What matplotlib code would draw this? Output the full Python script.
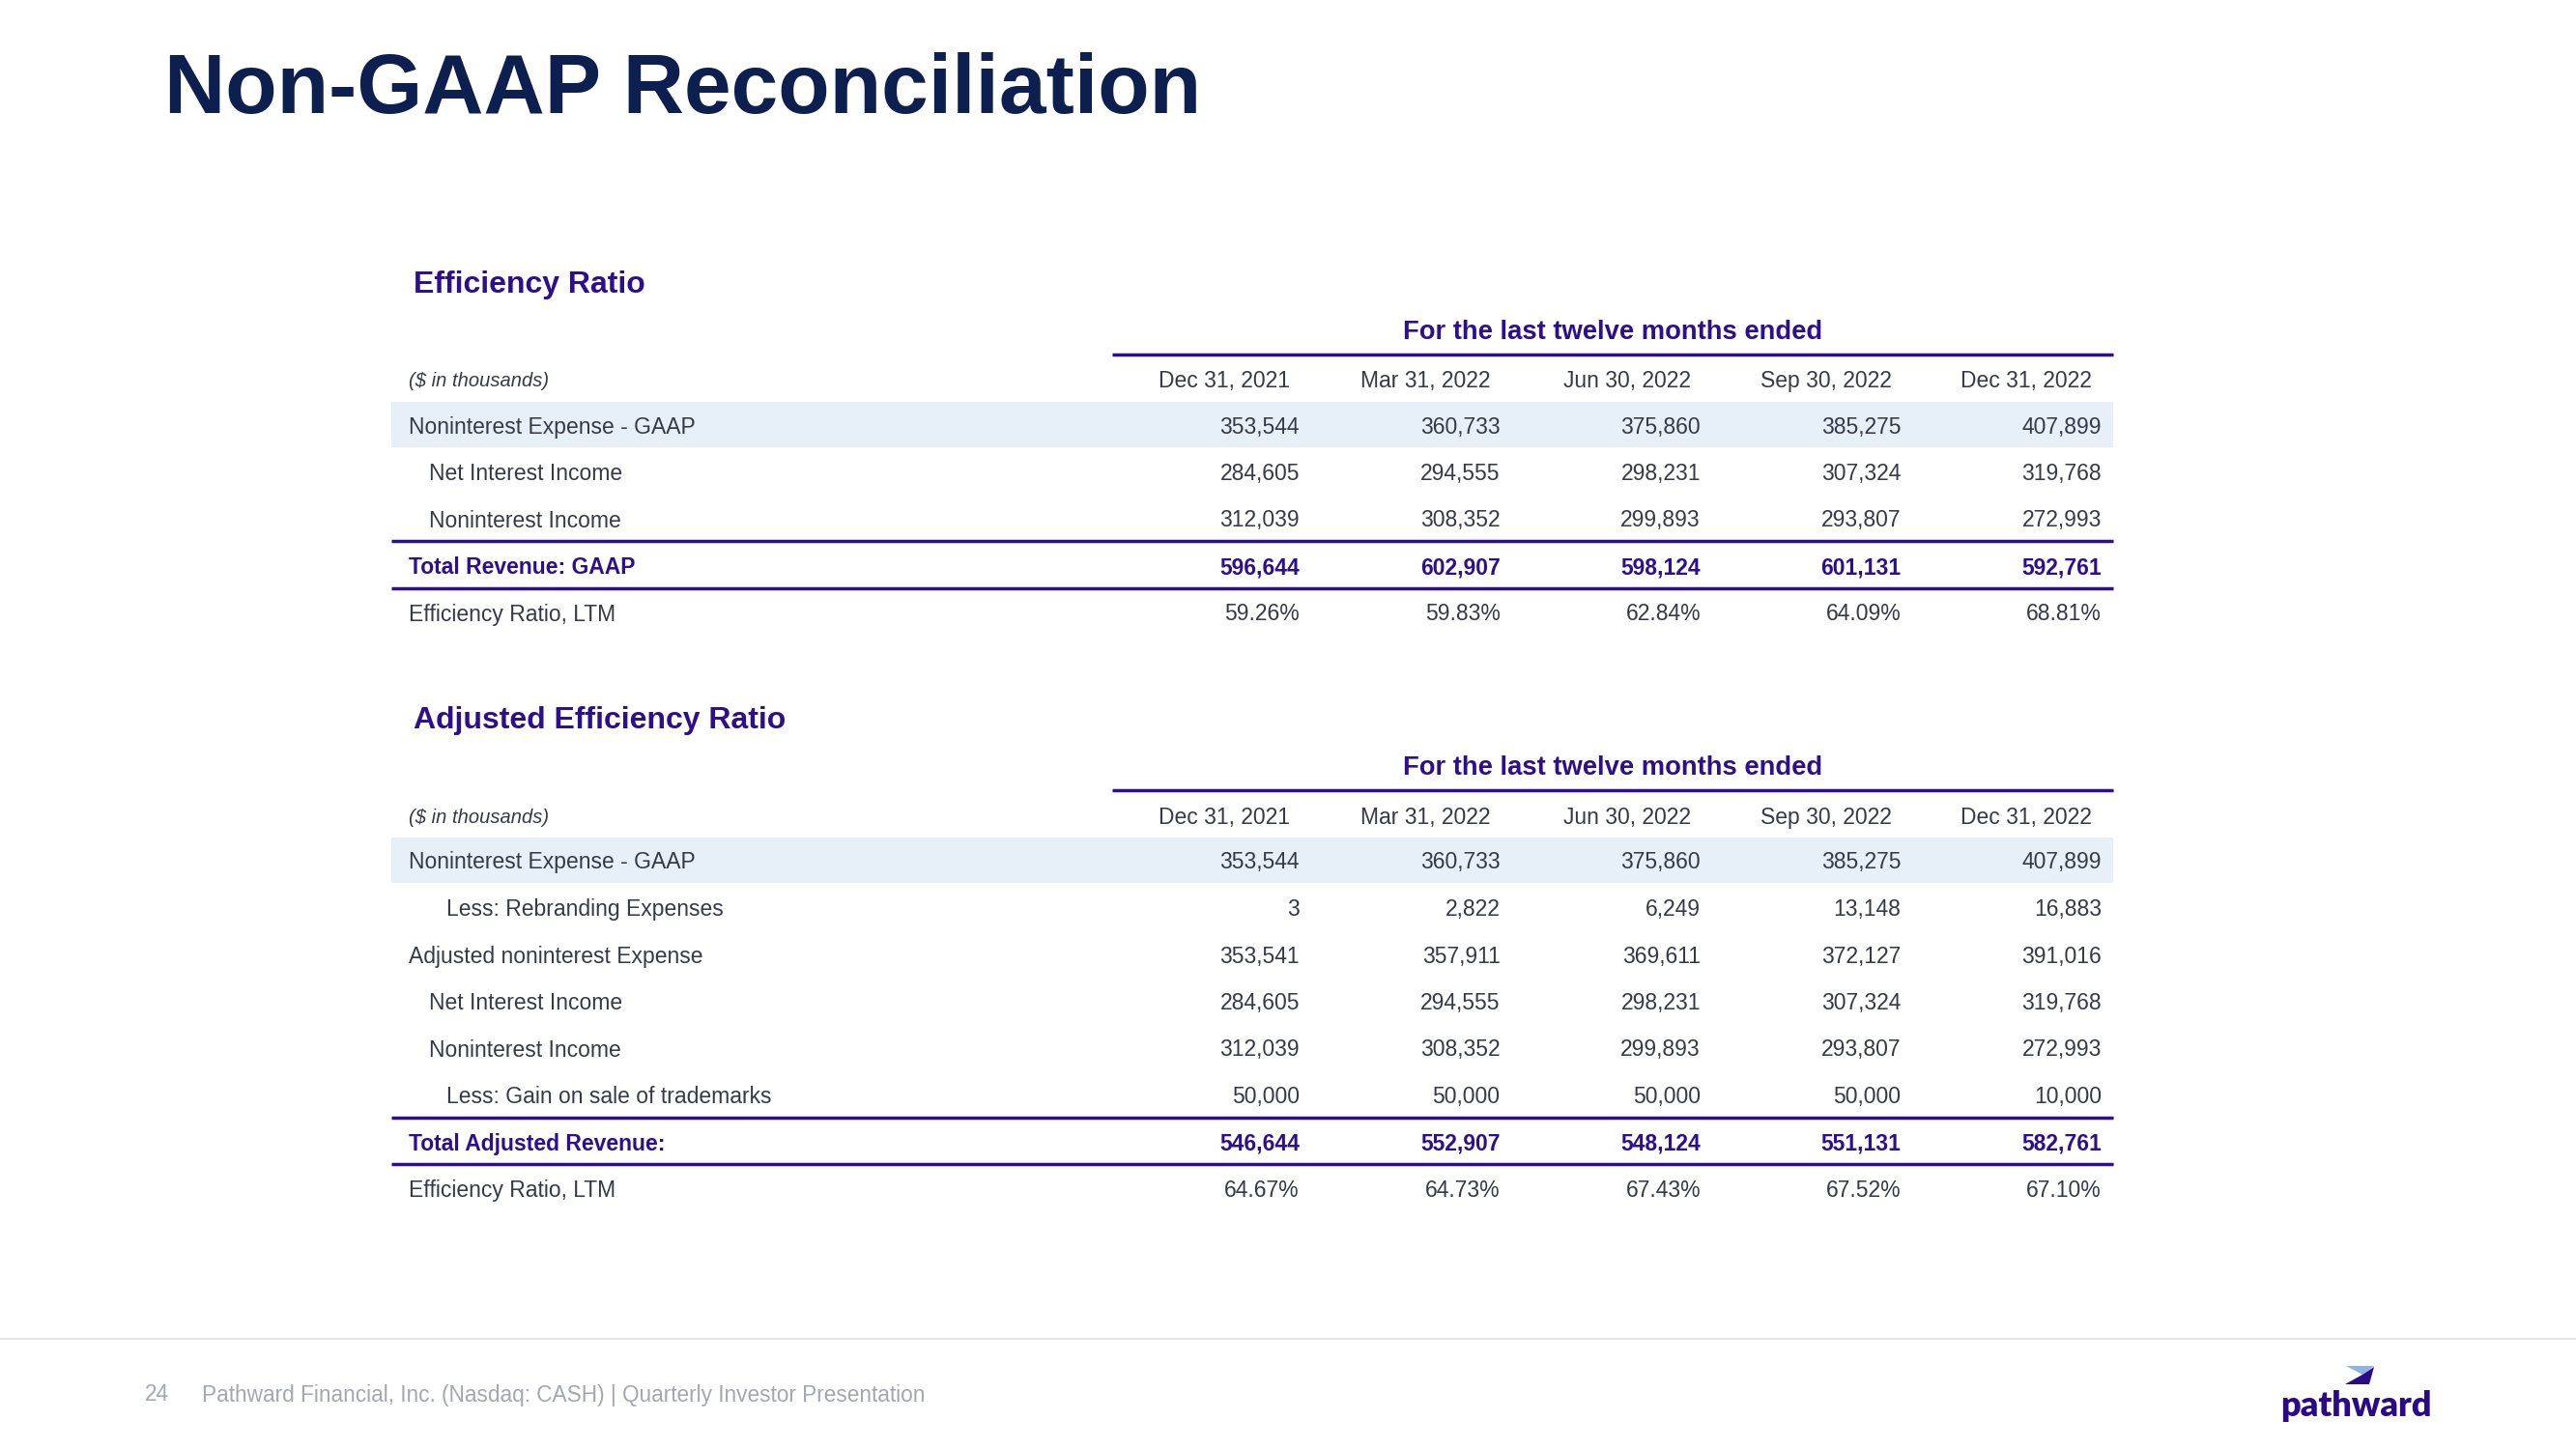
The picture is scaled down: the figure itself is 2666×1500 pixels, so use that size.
import matplotlib
matplotlib.use("Agg")
import matplotlib.pyplot as plt

# column dates
dates = ["Dec 31, 2021", "Mar 31, 2022", "Jun 30, 2022", "Sep 30, 2022", "Dec 31, 2022"]

# efficiency ratio table
nonint_exp = [353544, 360733, 375860, 385275, 407899]
net_int_inc = [284605, 294555, 298231, 307324, 319768]
nonint_inc = [312039, 308352, 299893, 293807, 272993]
total_rev = [596644, 602907, 598124, 601131, 592761]
eff_ratio = [59.26, 59.83, 62.84, 64.09, 68.81]

# adjusted efficiency ratio table
rebrand_exp = [3, 2822, 6249, 13148, 16883]
adj_nonint_exp = [353541, 357911, 369611, 372127, 391016]
gain_trademarks = [50000, 50000, 50000, 50000, 10000]
total_adj_rev = [546644, 552907, 548124, 551131, 582761]
adj_eff_ratio = [64.67, 64.73, 67.43, 67.52, 67.10]

NAVY = "#0c1f4e"
PURPLE = "#2d0e8c"
BODY = "#363a48"
BAND = "#e7eff8"
GREY = "#a3a7b0"

plt.rcParams['font.family'] = ['Liberation Sans', 'DejaVu Sans']

fig = plt.figure(figsize=(26.66, 15), dpi=100)
ax = fig.add_axes([0, 0, 1, 1])
ax.set_xlim(0, 2666)
ax.set_ylim(1500, 0)
ax.axis("off")

ax.text(170, 95, "Non-GAAP Reconciliation", fontsize=63, fontweight="bold",
        color=NAVY, va="center", ha="left")

LEFT = 405
RIGHT = 2187
LABEL_X = 423
INDENT = [0, 21, 39]
COL_RIGHT = [1345 + 207.5 * i for i in range(len(dates))]
STEP = 48.5
DY = 3  # small nudge so text sits centred in its row


def fmt_num(v):
    return f"{v:,}"


def fmt_pct(v):
    return f"{v:.2f}%"


def draw_table(top, heading, rows):
    ax.text(428, top + DY, heading, fontsize=23, fontweight="bold", color=PURPLE,
            va="center", ha="left")
    ax.text((1151 + RIGHT) / 2, top + 49 + DY, "For the last twelve months ended",
            fontsize=19.7, fontweight="bold", color=PURPLE, va="center", ha="center")
    ax.hlines(top + 75, 1151, RIGHT, color=PURPLE, lw=2.5)
    ax.text(LABEL_X, top + 100 + DY, "($ in thousands)", fontsize=14.5, style="italic",
            color=BODY, va="center", ha="left")
    for x, d in zip(COL_RIGHT, dates):
        ax.text(x - 10, top + 100 + DY, d, fontsize=16.5, color=BODY, va="center", ha="right")

    y0 = top + 147
    for i, (label, vals, kind, indent, fmt) in enumerate(rows):
        y = y0 + i * STEP
        bold = kind == "total"
        color = PURPLE if bold else BODY
        weight = "bold" if bold else "normal"
        if kind == "band":
            ax.fill_between([LEFT, RIGHT], y - 23.5, y + 23.5, color=BAND, lw=0)
        if bold:
            ax.hlines([y - STEP / 2, y + STEP / 2], LEFT, RIGHT, color=PURPLE, lw=2.5)
        ax.text(LABEL_X + INDENT[indent], y + DY, label, fontsize=16.5, color=color,
                fontweight=weight, va="center", ha="left")
        for x, v in zip(COL_RIGHT, vals):
            ax.text(x, y + DY, fmt(v), fontsize=16.5, color=color, fontweight=weight,
                    va="center", ha="right")


draw_table(292, "Efficiency Ratio", [
    ("Noninterest Expense - GAAP", nonint_exp, "band", 0, fmt_num),
    ("Net Interest Income", net_int_inc, "plain", 1, fmt_num),
    ("Noninterest Income", nonint_inc, "plain", 1, fmt_num),
    ("Total Revenue: GAAP", total_rev, "total", 0, fmt_num),
    ("Efficiency Ratio, LTM", eff_ratio, "plain", 0, fmt_pct),
])

draw_table(743, "Adjusted Efficiency Ratio", [
    ("Noninterest Expense - GAAP", nonint_exp, "band", 0, fmt_num),
    ("Less: Rebranding Expenses", rebrand_exp, "plain", 2, fmt_num),
    ("Adjusted noninterest Expense", adj_nonint_exp, "plain", 0, fmt_num),
    ("Net Interest Income", net_int_inc, "plain", 1, fmt_num),
    ("Noninterest Income", nonint_inc, "plain", 1, fmt_num),
    ("Less: Gain on sale of trademarks", gain_trademarks, "plain", 2, fmt_num),
    ("Total Adjusted Revenue:", total_adj_rev, "total", 0, fmt_num),
    ("Efficiency Ratio, LTM", adj_eff_ratio, "plain", 0, fmt_pct),
])

# footer
ax.hlines(1386, 0, 2666, color="#e6e6e6", lw=1.5)
ax.text(150, 1444, "24", fontsize=16.3, color=GREY, va="center", ha="left")
ax.text(209, 1444, "Pathward Financial, Inc. (Nasdaq: CASH) | Quarterly Investor Presentation",
        fontsize=16.3, color=GREY, va="center", ha="left")

# logo
ax.fill([2428, 2457, 2445], [1414, 1414, 1423], color="#8fb4e3", lw=0)
ax.fill([2445, 2457, 2452, 2427], [1423, 1415, 1433, 1433], color="#2a0a86", lw=0)
ax.text(2438, 1455, "pathward", fontsize=26, fontweight="heavy", family="Lato",
        color="#2a0a86", va="center", ha="center")

fig.savefig("out.png", dpi=100, facecolor="white")
